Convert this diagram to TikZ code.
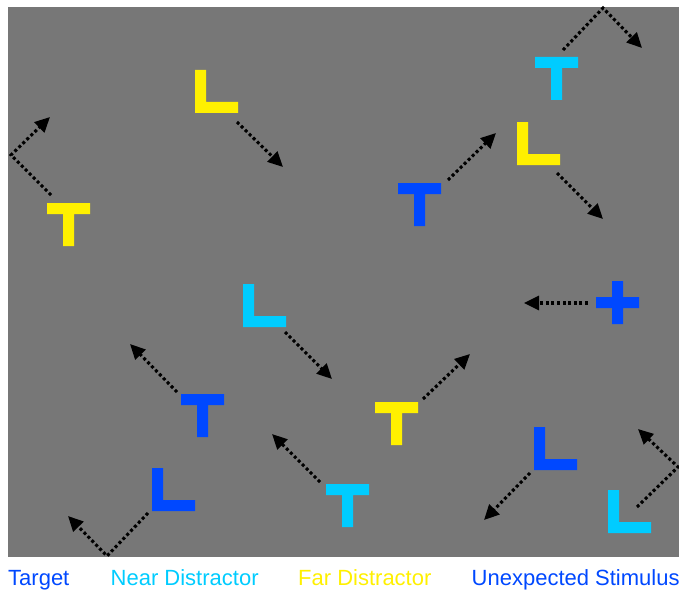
\documentclass[tikz,border=0pt]{standalone}
\usepackage{fontspec}
\setmainfont{Liberation Sans}
\usetikzlibrary{arrows.meta}
\definecolor{bggray}{HTML}{777777}
\definecolor{tblue}{HTML}{0048FF}
\definecolor{ncyan}{HTML}{00CCFF}
\definecolor{fyellow}{HTML}{FFF000}
% letters: top left corner, colour
\newcommand{\letT}[3]{\fill[#3] (#1,#2) rectangle +(43,11) (#1+16,#2+11) rectangle +(11,32);}
\newcommand{\letL}[3]{\fill[#3] (#1,#2) rectangle +(11,43) (#1,#2+32) rectangle +(43,11);}
\newcommand{\letX}[3]{\fill[#3] (#1,#2+16) rectangle +(43,11) (#1+16,#2) rectangle +(11,43);}

\begin{document}
\begin{tikzpicture}[x=1pt,y=-1pt,
    mv/.style={line width=3.1pt,dash pattern=on 3pt off 2.6pt,-{Triangle[length=15pt,width=14pt]}},
    lg/.style={anchor=base west,inner sep=0pt,font=\fontsize{22}{26}\selectfont}]
    \useasboundingbox (0,0) rectangle (679,591);
    \fill[bggray] (8,7) rectangle (679,557);
    % far distractors
    \letT{47}{203}{fyellow}
    \letL{195}{70}{fyellow}
    \letL{517}{122}{fyellow}
    \letT{375}{402}{fyellow}
    % near distractors
    \letT{535}{57}{ncyan}
    \letL{243}{284}{ncyan}
    \letT{326}{484}{ncyan}
    \letL{608}{490}{ncyan}
    % targets
    \letT{398}{183}{tblue}
    \letT{181}{394}{tblue}
    \letL{152}{468}{tblue}
    \letL{534}{427}{tblue}
    % unexpected stimulus
    \letX{596}{281}{tblue}
    % motion paths
    \draw[mv] (51,195)--(11,155)--(50,117);
    \draw[mv] (237,122)--(283,167);
    \draw[mv] (563,50)--(603,8)--(642,48);
    \draw[mv] (557,173)--(603,219);
    \draw[mv] (448,180)--(496,133);
    \draw[mv] (285,332)--(332,379);
    \draw[mv] (177,392)--(130,344);
    \draw[mv] (148,513)--(107,556)--(68,516);
    \draw[mv] (320,482)--(272,434);
    \draw[mv] (588,303)--(524,303);
    \draw[mv] (423,399)--(470,354);
    \draw[mv] (530,473)--(484,520);
    \draw[mv] (637,507)--(678,467)--(638,429);
    % legend
    \node[lg,text=tblue] (lgtarget) at (8,585) {Target};
    \node[lg,text=ncyan] (lgnear) at (110.5,585) {Near Distractor};
    \node[lg,text=fyellow] (lgfar) at (298,585) {Far Distractor};
    \node[lg,text=tblue] (lgunexp) at (471.5,585) {Unexpected Stimulus};
\end{tikzpicture}
\end{document}
